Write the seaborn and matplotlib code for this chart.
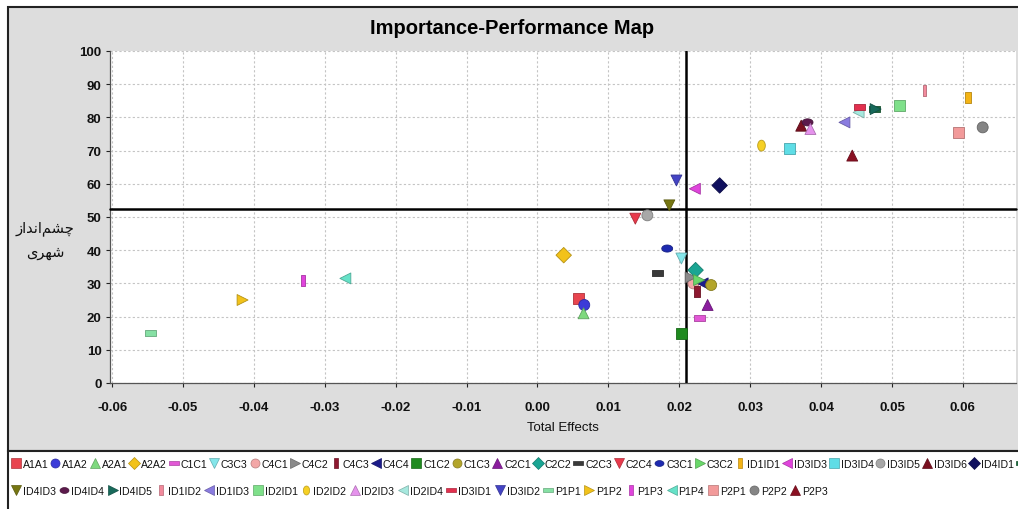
import numpy as np
import pandas as pd
import matplotlib
matplotlib.use("Agg")
import matplotlib.pyplot as plt
import seaborn as sns
from matplotlib.lines import Line2D
from matplotlib.patches import Rectangle
import matplotlib.colors as mcolors

# ---------------- data ----------------
labels = ["A1A1", "A1A2", "A2A1", "A2A2", "C1C1", "C3C3", "C4C1", "C4C2", "C4C3", "C4C4",
          "C1C2", "C1C3", "C2C1", "C2C2", "C2C3", "C2C4", "C3C1", "C3C2", "ID1ID1", "ID3ID3",
          "ID3ID4", "ID3ID5", "ID3ID6", "ID4ID1", "ID4ID2",
          "ID4ID3", "ID4ID4", "ID4ID5", "ID1ID2", "ID1ID3", "ID2ID1", "ID2ID2", "ID2ID3",
          "ID2ID4", "ID3ID1", "ID3ID2", "P1P1", "P1P2", "P1P3", "P1P4", "P2P1", "P2P2", "P2P3"]

total_effects = [0.0058, 0.0066, 0.0065, 0.0037, 0.0228, 0.0203, 0.0220, 0.0216, 0.0225, 0.0233,
                 0.0203, 0.0245, 0.0240, 0.0223, 0.0169, 0.0138, 0.0183, 0.0228, 0.0607, 0.0222,
                 0.0355, 0.0155, 0.0372, 0.0257, 0.0476,
                 0.0186, 0.0381, 0.0477, 0.0546, 0.0433, 0.0511, 0.0316, 0.0385,
                 0.0453, 0.0454, 0.0196, -0.0546, -0.0416, -0.0331, -0.0271, 0.0594, 0.0628, 0.0444]

performance = [25.5, 23.5, 21.0, 38.5, 19.5, 37.5, 30.0, 31.8, 27.5, 30.0,
               15.0, 29.5, 23.5, 34.0, 33.0, 49.5, 40.5, 31.0, 86.0, 58.5,
               70.5, 50.5, 77.5, 59.5, 82.5,
               53.5, 78.5, 82.5, 88.0, 78.5, 83.5, 71.5, 76.5,
               81.5, 83.0, 61.0, 15.0, 25.0, 31.0, 31.5, 75.5, 77.0, 68.5]

colors = ["#e8454f", "#3b3bd8", "#7ed97e", "#f2c21a", "#e258d6", "#84e6ea", "#f3a7a7", "#8a8a8a", "#8e1830", "#1c1c8a",
          "#1f8a1f", "#b3a52a", "#8b1d9e", "#1aa593", "#3a3a3a", "#e83a4c", "#1e2ab0", "#6ad86a", "#f4b416", "#e044dc",
          "#5fdde6", "#a8a8a8", "#7a1020", "#10105e", "#1c6a3c",
          "#767612", "#5c1a4c", "#17695a", "#f28a9c", "#8a7ce0", "#7fe08a", "#f6d024", "#e592ec",
          "#a6e8de", "#e2304e", "#4444c4", "#86e0a4", "#f2c21a", "#e044dc", "#66e2c8", "#f29a9a", "#858585", "#8a1022"]

x_ticks = [-0.06, -0.05, -0.04, -0.03, -0.02, -0.01, 0.00, 0.01, 0.02, 0.03, 0.04, 0.05, 0.06]
y_ticks = [0, 10, 20, 30, 40, 50, 60, 70, 80, 90, 100]
x_threshold = 0.021
y_threshold = 52.5

title = "Importance-Performance Map"
x_label = "Total Effects"
# "چشم‌انداز" / "شهری" written with Arabic presentation forms in visual order
y_label_line1 = "\uFEAF\uFE8D\uFEAA\uFEE7\uFE8D\uFEE2\uFEB8\uFB7C"
y_label_line2 = "\uFEEF\uFEAE\uFEEC\uFEB7"

# ---------------- marker shapes ----------------
hrect = [(-1, -0.55), (1, -0.55), (1, 0.55), (-1, 0.55), (-1, -0.55)]
vrect = [(-0.55, -1), (0.55, -1), (0.55, 1), (-0.55, 1), (-0.55, -1)]
vbar = [(-0.35, -1), (0.35, -1), (0.35, 1), (-0.35, 1), (-0.35, -1)]
_t = np.linspace(0, 2 * np.pi, 25)
hell = list(zip(np.cos(_t), 0.65 * np.sin(_t)))
vell = list(zip(0.7 * np.cos(_t), np.sin(_t)))

marker_map = {
    "A1A1": "s", "A1A2": "o", "A2A1": "^", "A2A2": "D", "C1C1": hrect, "C3C3": "v",
    "C4C1": "o", "C4C2": ">", "C4C3": vrect, "C4C4": "<", "C1C2": "s", "C1C3": "o",
    "C2C1": "^", "C2C2": "D", "C2C3": hrect, "C2C4": "v", "C3C1": hell, "C3C2": ">",
    "ID1ID1": vrect, "ID3ID3": "<", "ID3ID4": "s", "ID3ID5": "o", "ID3ID6": "^",
    "ID4ID1": "D", "ID4ID2": hrect, "ID4ID3": "v", "ID4ID4": hell, "ID4ID5": ">",
    "ID1ID2": vbar, "ID1ID3": "<", "ID2ID1": "s", "ID2ID2": vell, "ID2ID3": "^",
    "ID2ID4": "<", "ID3ID1": hrect, "ID3ID2": "v", "P1P1": hrect, "P1P2": ">",
    "P1P3": vbar, "P1P4": "<", "P2P1": "s", "P2P2": "o", "P2P3": "^",
}

df = pd.DataFrame({"label": labels, "x": total_effects, "y": performance})
palette = dict(zip(labels, colors))


def darker(c, f=0.75):
    r, g, b = mcolors.to_rgb(c)
    return (r * f, g * f, b * f)


# ---------------- figure ----------------
sns.set_style("white")
plt.rcParams["font.family"] = ["Liberation Sans", "DejaVu Sans"]

W, H = 1018, 510
fig = plt.figure(figsize=(W / 100, H / 100), dpi=100, facecolor="white")

# grey panel + legend panel
fig.patches.append(Rectangle((8 / W, 1 - 452 / H), 1.2, (452 - 8) / H, transform=fig.transFigure,
                             facecolor="#dddddd", edgecolor="#222222", lw=1.5, zorder=-10))
fig.patches.append(Rectangle((8 / W, -0.1), 1.2, 0.1 + (510 - 452) / H, transform=fig.transFigure,
                             facecolor="white", edgecolor="#222222", lw=1.5, zorder=-9))

ax = fig.add_axes([110 / W, 1 - 384 / H, (1016 - 110) / W, (384 - 52) / H])
ax.set_facecolor("white")

sns.scatterplot(data=df, x="x", y="y", hue="label", style="label", palette=palette,
                markers=marker_map, s=62, linewidth=0.6,
                legend=False, ax=ax, zorder=5)
for coll in ax.collections:
    coll.set_edgecolor([darker(palette[l]) for l in labels])

ax.axvline(x_threshold, color="black", lw=1.8, zorder=4)
ax.axhline(y_threshold, color="black", lw=1.8, zorder=4, clip_on=False)

ax.set_xlim(-0.0603, 0.0675)
ax.set_ylim(0, 100)
ax.set_xticks(x_ticks)
ax.set_xticklabels([f"{v:.2f}" for v in x_ticks])
ax.set_yticks(y_ticks)
ax.set_yticklabels([str(v) for v in y_ticks])
ax.grid(True, color="#c4c4c4", linestyle=(0, (2, 2)), lw=0.8)
ax.tick_params(axis="both", which="both", direction="out", length=3, width=0.8,
               labelsize=9.5, colors="#222222", left=True, bottom=True)
ax.tick_params(axis="x", pad=10)
ax.tick_params(axis="y", pad=3)
for lab in ax.get_xticklabels() + ax.get_yticklabels():
    lab.set_fontweight("bold")
    lab.set_color("#111111")
for side in ["top", "right"]:
    ax.spines[side].set_visible(False)
for side in ["left", "bottom"]:
    ax.spines[side].set_color("#555555")
    ax.spines[side].set_linewidth(0.9)
ax.set_xlabel(x_label, fontsize=9.5, labelpad=6, color="#111111")
ax.set_ylabel("")

fig.text(0.503, 1 - 29 / H, title, ha="center", va="center", fontsize=14.5, fontweight="bold",
         color="black")
fig.text(45 / W, 1 - 229 / H, y_label_line1, ha="center", va="center", fontsize=10.5,
         family=["DejaVu Sans"], color="#111111")
fig.text(45 / W, 1 - 253 / H, y_label_line2, ha="center", va="center", fontsize=10.5,
         family=["DejaVu Sans"], color="#111111")

# ---------------- legend (two flowing rows) ----------------
def handle(lbl):
    return Line2D([], [], linestyle="none", marker=marker_map[lbl], markersize=6.5,
                  markerfacecolor=palette[lbl], markeredgecolor=darker(palette[lbl]),
                  markeredgewidth=0.5)

row1 = labels[:25]
row2 = labels[25:]
leg_font = {"size": 7.6}
for row, ytop, cs in [(row1, 460, 0.2), (row2, 487, 0.36)]:
    lg = fig.legend(handles=[handle(l) for l in row], labels=row, loc="upper left",
                    bbox_to_anchor=(11 / W, 1 - ytop / H), ncol=len(row), frameon=False,
                    prop=leg_font, handlelength=0.9, handletextpad=0.2, columnspacing=cs,
                    borderaxespad=0, borderpad=0)
    for t in lg.get_texts():
        t.set_color("#111111")

fig.savefig("out.png", dpi=100, facecolor="white")
